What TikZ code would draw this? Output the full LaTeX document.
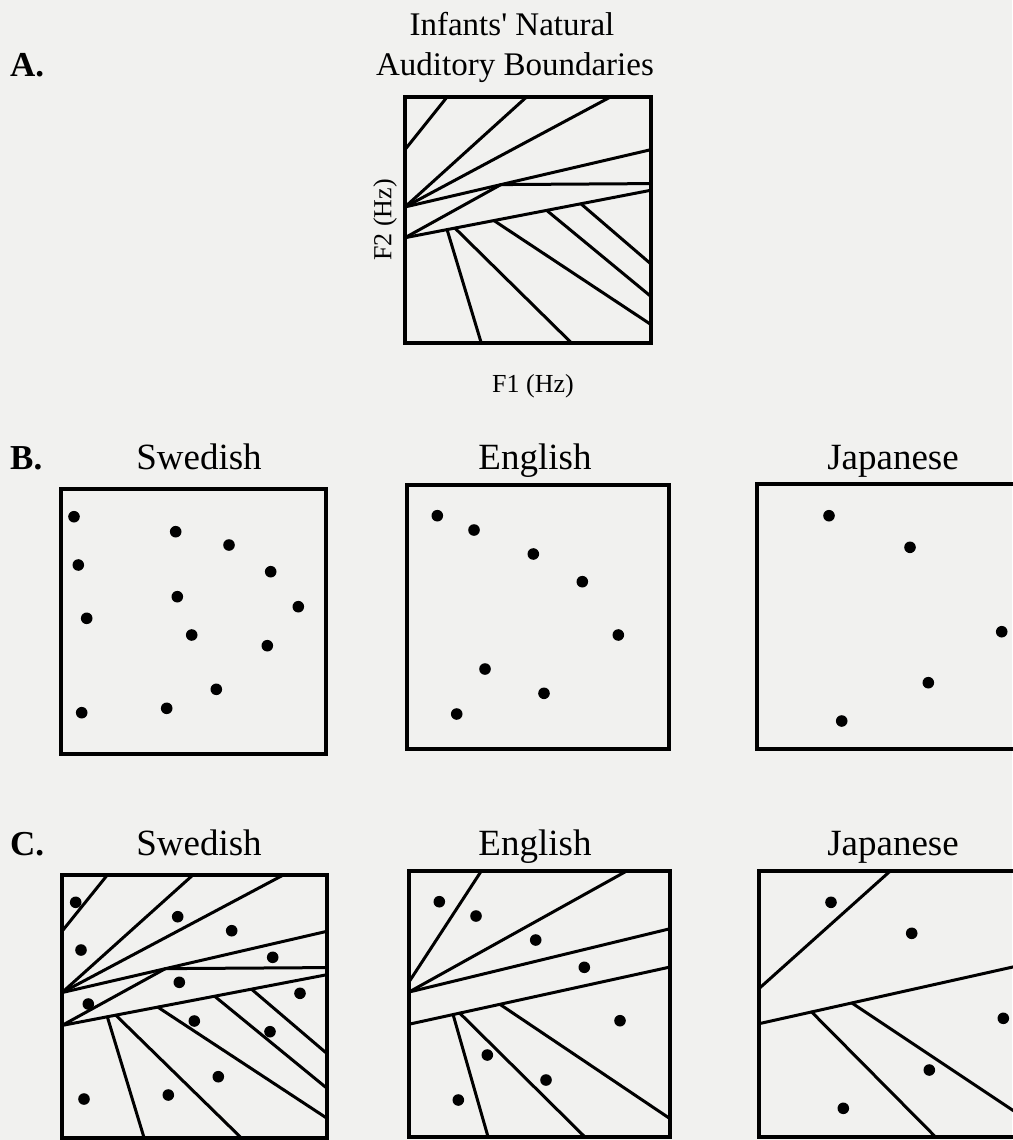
\documentclass[tikz,border=0pt]{standalone}
\usepackage{fontspec}
\setmainfont{Liberation Serif}
\definecolor{paper}{RGB}{241,241,239}
\newcommand{\SwedPattern}{%
  \draw[bound] (0,0.214) -- (0.171,0);
  \draw[bound] (0,0.447) -- (0.494,0);
  \draw[bound] (0,0.447) -- (0.835,0);
  \draw[bound] (0,0.447) -- (1,0.214);
  \draw[bound] (0.39,0.356) -- (1,0.352);
  \draw[bound] (0,0.572) -- (0.39,0.356);
  \draw[bound] (0,0.572) -- (1,0.379);
  \draw[bound] (0.171,0.539) -- (0.310,1);
  \draw[bound] (0.203,0.533) -- (0.677,1);
  \draw[bound] (0.361,0.502) -- (1,0.925);
  \draw[bound] (0.576,0.461) -- (1,0.811);
  \draw[bound] (0.715,0.434) -- (1,0.679);
}
\begin{document}
\begin{tikzpicture}[x=1pt,y=-1pt,
  frame/.style={line width=3.2pt},
  bound/.style={line width=3pt,line cap=round},
  lab/.style={font=\fontsize{37}{40}\selectfont, anchor=base, inner sep=0pt},
  tit/.style={font=\fontsize{33}{36}\selectfont, anchor=base, inner sep=0pt},
  axl/.style={font=\fontsize{26}{28}\selectfont, inner sep=0pt},
  panel/.style={font=\fontsize{35}{36}\selectfont\bfseries, anchor=base west, inner sep=0pt}]
\fill[paper] (0,0) rectangle (1012,1140);
\useasboundingbox (0,0) rectangle (1012,1140);

% ---- texts ----
\node[panel] (pA) at (10,76) {A.};
\node[tit] (t1) at (512,36) {Infants\textquotesingle\ Natural};
\node[tit] (t2) at (515,75) {Auditory Boundaries};
\node[axl, anchor=base] (f1) at (533,392) {F1 (Hz)};
\node[axl, rotate=90] (f2) at (385,220) {F2 (Hz)};

\node[panel] (pB) at (10,469) {B.};
\node[lab] (bs) at (199,469) {Swedish};
\node[lab] (be) at (535,469) {English};
\node[lab] (bj) at (893,469) {Japanese};

\node[panel] (pC) at (10,855) {C.};
\node[lab] (cs) at (199,855) {Swedish};
\node[lab] (ce) at (535,855) {English};
\node[lab] (cj) at (893,855) {Japanese};

% ---- A ----
\begin{scope}[shift={(405,97)}, x=246pt, y=-246pt]
  \SwedPattern
\end{scope}
\draw[frame] (405,97) rectangle (651,343);

% ---- B boxes ----
\draw[frame] (61,489) rectangle (326,754);
\draw[frame] (407,485) rectangle (669,749);
\draw[frame] (757,484) rectangle (1020,749);

% ---- C boxes ----
\begin{scope}[shift={(62,875)}, x=265pt, y=-263pt]
  \SwedPattern
\end{scope}
\draw[frame] (62,875) rectangle (327,1138);

\begin{scope}[shift={(409,871)}, x=261pt, y=-266pt]
  \draw[bound] (0,0.417) -- (0.277,0);
  \draw[bound] (0,0.455) -- (0.834,0);
  \draw[bound] (0,0.455) -- (1,0.217);
  \draw[bound] (0,0.576) -- (1,0.361);
  \draw[bound] (0.169,0.540) -- (0.303,1);
  \draw[bound] (0.194,0.534) -- (0.674,1);
  \draw[bound] (0.348,0.501) -- (1,0.931);
\end{scope}
\draw[frame] (409,871) rectangle (670,1137);

\begin{scope}[shift={(759,871)}, x=262pt, y=-266pt]
  \draw[bound] (0,0.442) -- (0.501,0);
  \draw[bound] (0,0.574) -- (1,0.354);
  \draw[bound] (0.201,0.530) -- (0.674,1);
  \draw[bound] (0.354,0.496) -- (1,0.920);
\end{scope}
\draw[frame] (759,871) rectangle (1021,1137);

% ---- dots ----
\foreach \x/\y in {74/516.7, 175.7/531.7, 229/545, 78.3/565, 270.7/571.7, 177.3/596.7, 298.3/606.7, 86.7/618.3, 191.7/635, 267.3/645.7, 216.3/689.3, 166.7/708.3, 81.7/712.7,
  75.7/902.3, 177.7/916.7, 231.7/930.7, 81/950, 272.7/957.3, 179.3/982.3, 300/993.3, 88.3/1004, 194.3/1021, 270/1031.7, 218.3/1076.7, 168.3/1095, 84/1099,
  437.3/515.7, 474/530, 533.3/554, 582.3/581.7, 618.3/635, 485/669, 544/693.3, 456.7/714,
  439.3/901.7, 476/916, 535.7/940, 584.3/967.3, 620/1020.7, 487.3/1055, 546/1080, 458.3/1100,
  829/515.7, 910/547.3, 1001.7/631.7, 928.3/682.7, 841.7/721,
  831/902.3, 911.7/933.3, 1003.3/1018.3, 929.3/1070, 843.3/1108.3}
  \fill (\x,\y) circle[radius=5.8pt];
\end{tikzpicture}
\end{document}
